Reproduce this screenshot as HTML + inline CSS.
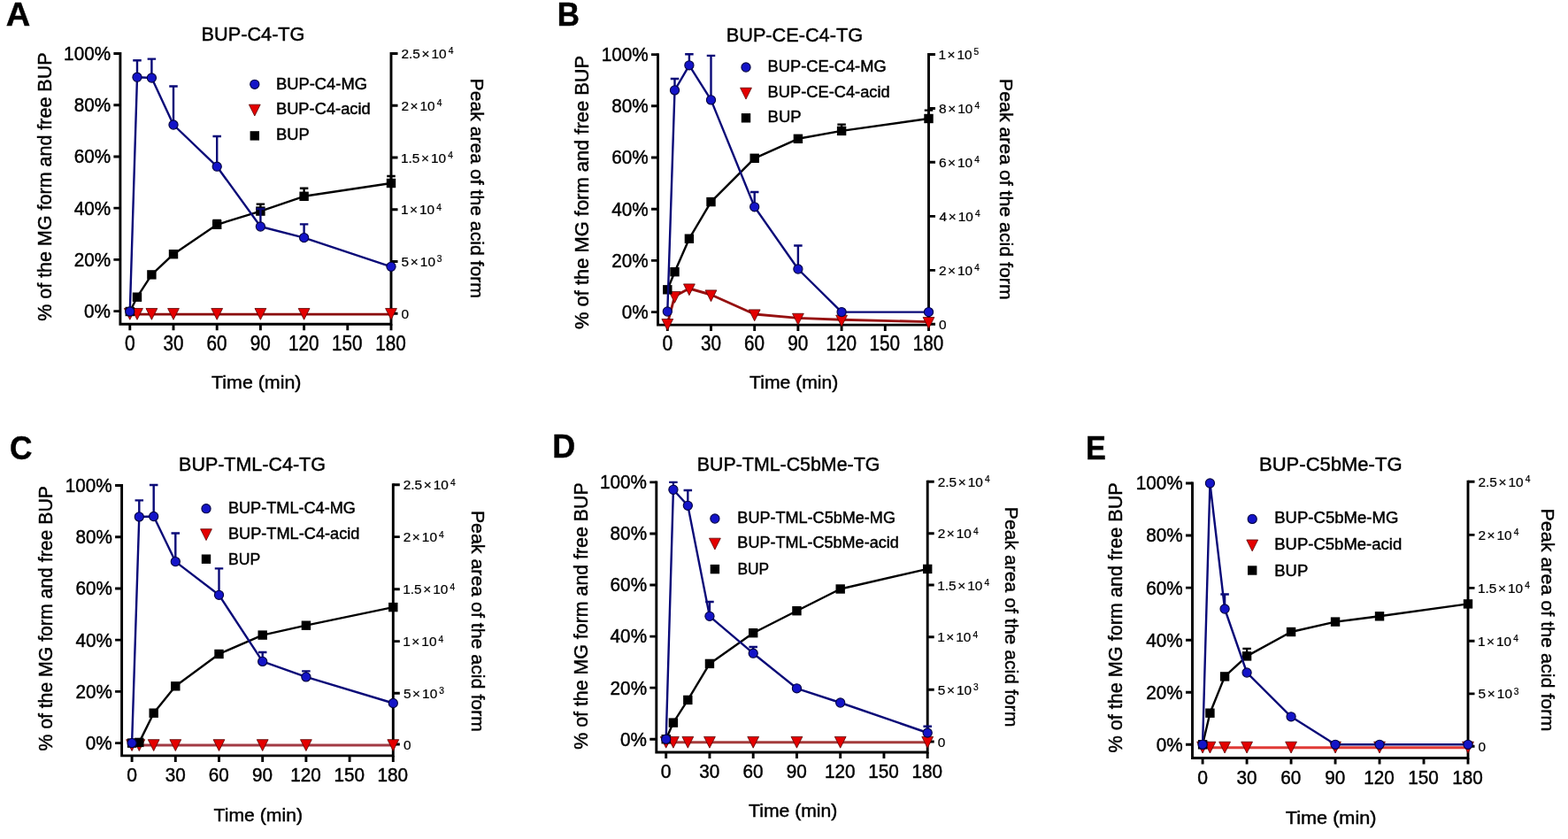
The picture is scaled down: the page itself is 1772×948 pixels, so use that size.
<!DOCTYPE html>
<html><head><meta charset="utf-8"><title>Figure</title>
<style>html,body{margin:0;padding:0;background:#fff;overflow:hidden;}svg{display:block;}</style>
</head><body>
<svg width="1772" height="948" viewBox="0 0 1772 948" font-family="'Liberation Sans', Arial, Helvetica, sans-serif" fill="#000">
<style>text{stroke:#000;stroke-width:0.45px;}.rl text{stroke-width:0.22px;}</style>
<rect width="1772" height="948" fill="#fff"/>
<g>
<text x="6.66" y="29.4" font-size="37.4" font-weight="bold" textLength="27.49" lengthAdjust="spacingAndGlyphs">A</text>
<text x="227.56" y="46" font-size="21.4" textLength="116.95" lengthAdjust="spacingAndGlyphs">BUP-C4-TG</text>
<path d="M135.9 59.05V366.3H442V59.05" stroke="#000" stroke-width="2.9" fill="none"/>
<path d="M128.4 60.5H135.9M128.4 118.72H135.9M128.4 176.94H135.9M128.4 235.16H135.9M128.4 293.38H135.9M128.4 351.6H135.9M442 60.5H449.5M442 119.2H449.5M442 178H449.5M442 236.8H449.5M442 295.5H449.5M442 354.2H449.5M146.8 366.3V373.3M196 366.3V373.3M245.2 366.3V373.3M294.4 366.3V373.3M343.6 366.3V373.3M392.8 366.3V373.3M442 366.3V373.3" stroke="#000" stroke-width="2.9" fill="none"/>
<text x="72.11" y="67.9" font-size="22.6" textLength="52.97" lengthAdjust="spacingAndGlyphs">100%</text>
<text x="83.71" y="126.12" font-size="22.6" textLength="41.45" lengthAdjust="spacingAndGlyphs">80%</text>
<text x="83.71" y="184.34" font-size="22.6" textLength="41.45" lengthAdjust="spacingAndGlyphs">60%</text>
<text x="83.71" y="242.56" font-size="22.6" textLength="41.45" lengthAdjust="spacingAndGlyphs">40%</text>
<text x="83.71" y="300.78" font-size="22.6" textLength="41.45" lengthAdjust="spacingAndGlyphs">20%</text>
<text x="95.1" y="359" font-size="22.6" textLength="29.93" lengthAdjust="spacingAndGlyphs">0%</text>
<text x="140.88" y="396" font-size="23.3" textLength="11.76" lengthAdjust="spacingAndGlyphs">0</text>
<text x="184.4" y="396" font-size="23.3" textLength="23.03" lengthAdjust="spacingAndGlyphs">30</text>
<text x="233.5" y="396" font-size="23.3" textLength="23.03" lengthAdjust="spacingAndGlyphs">60</text>
<text x="282.7" y="396" font-size="23.3" textLength="23.03" lengthAdjust="spacingAndGlyphs">90</text>
<text x="325.89" y="396" font-size="23.3" textLength="34.55" lengthAdjust="spacingAndGlyphs">120</text>
<text x="375.09" y="396" font-size="23.3" textLength="34.55" lengthAdjust="spacingAndGlyphs">150</text>
<text x="424.29" y="396" font-size="23.3" textLength="34.55" lengthAdjust="spacingAndGlyphs">180</text>
<text x="239.07" y="439.3" font-size="20.8" textLength="101.41" lengthAdjust="spacingAndGlyphs">Time (min)</text>
<g class="rl"><text x="453.43" y="66" font-size="15.4" textLength="21.41" lengthAdjust="spacingAndGlyphs">2.5</text><text x="476.44" y="66" font-size="15.4" textLength="8.99" lengthAdjust="spacingAndGlyphs">×</text><text x="487.46" y="66" font-size="15.4" textLength="17.13" lengthAdjust="spacingAndGlyphs">10</text><text x="506.69" y="61.4" font-size="10.2" textLength="5.67" lengthAdjust="spacingAndGlyphs">4</text></g>
<g class="rl"><text x="453.43" y="124.7" font-size="15.4" textLength="8.56" lengthAdjust="spacingAndGlyphs">2</text><text x="463.51" y="124.7" font-size="15.4" textLength="8.99" lengthAdjust="spacingAndGlyphs">×</text><text x="474.53" y="124.7" font-size="15.4" textLength="17.13" lengthAdjust="spacingAndGlyphs">10</text><text x="493.76" y="120.1" font-size="10.2" textLength="5.67" lengthAdjust="spacingAndGlyphs">4</text></g>
<g class="rl"><text x="452.97" y="183.5" font-size="15.4" textLength="21.41" lengthAdjust="spacingAndGlyphs">1.5</text><text x="475.98" y="183.5" font-size="15.4" textLength="8.99" lengthAdjust="spacingAndGlyphs">×</text><text x="487" y="183.5" font-size="15.4" textLength="17.13" lengthAdjust="spacingAndGlyphs">10</text><text x="506.23" y="178.9" font-size="10.2" textLength="5.67" lengthAdjust="spacingAndGlyphs">4</text></g>
<g class="rl"><text x="452.97" y="242.3" font-size="15.4" textLength="8.56" lengthAdjust="spacingAndGlyphs">1</text><text x="463.04" y="242.3" font-size="15.4" textLength="8.99" lengthAdjust="spacingAndGlyphs">×</text><text x="474.07" y="242.3" font-size="15.4" textLength="17.13" lengthAdjust="spacingAndGlyphs">10</text><text x="493.29" y="237.7" font-size="10.2" textLength="5.67" lengthAdjust="spacingAndGlyphs">4</text></g>
<g class="rl"><text x="453.58" y="301" font-size="15.4" textLength="8.56" lengthAdjust="spacingAndGlyphs">5</text><text x="463.81" y="301" font-size="15.4" textLength="8.99" lengthAdjust="spacingAndGlyphs">×</text><text x="474.84" y="301" font-size="15.4" textLength="17.13" lengthAdjust="spacingAndGlyphs">10</text><text x="493.86" y="296.4" font-size="10.2" textLength="5.67" lengthAdjust="spacingAndGlyphs">3</text></g>
<g class="rl"><text x="453.58" y="359.7" font-size="15.4" textLength="8.56" lengthAdjust="spacingAndGlyphs">0</text></g>
<text transform="translate(57.5 362.2) rotate(-90)" x="-0.64" y="0" font-size="21.2" textLength="303.33" lengthAdjust="spacingAndGlyphs">% of the MG form and free BUP</text>
<text transform="translate(532.2 90.3) rotate(90)" x="-1.69" y="0" font-size="21" textLength="248.33" lengthAdjust="spacingAndGlyphs">Peak area of the acid form</text>
<circle cx="287.8" cy="95.3" r="5.1" fill="#1414c8" stroke="#020240" stroke-width="1.1"/>
<path d="M281.4 118.18L294.2 118.18L287.8 130.98Z" fill="#e40000" stroke="#580000" stroke-width="0.8" stroke-linejoin="round"/>
<rect x="282.6" y="148.2" width="10.4" height="10.4" fill="#000"/>
<text x="311.93" y="100.6" font-size="17.5" textLength="103.06" lengthAdjust="spacingAndGlyphs">BUP-C4-MG</text>
<text x="311.93" y="129.4" font-size="17.5" textLength="106.85" lengthAdjust="spacingAndGlyphs">BUP-C4-acid</text>
<text x="311.93" y="158.3" font-size="17.5" textLength="37.72" lengthAdjust="spacingAndGlyphs">BUP</text>
<path d="M146.8 355.1H442" stroke="#8a0505" stroke-width="2.9" fill="none"/>
<path d="M140.4 348.48L153.2 348.48L146.8 361.28Z" fill="#e40000" stroke="#580000" stroke-width="0.8" stroke-linejoin="round"/>
<path d="M148.6 348.48L161.4 348.48L155 361.28Z" fill="#e40000" stroke="#580000" stroke-width="0.8" stroke-linejoin="round"/>
<path d="M165 348.48L177.8 348.48L171.4 361.28Z" fill="#e40000" stroke="#580000" stroke-width="0.8" stroke-linejoin="round"/>
<path d="M189.6 348.48L202.4 348.48L196 361.28Z" fill="#e40000" stroke="#580000" stroke-width="0.8" stroke-linejoin="round"/>
<path d="M238.8 348.48L251.6 348.48L245.2 361.28Z" fill="#e40000" stroke="#580000" stroke-width="0.8" stroke-linejoin="round"/>
<path d="M288 348.48L300.8 348.48L294.4 361.28Z" fill="#e40000" stroke="#580000" stroke-width="0.8" stroke-linejoin="round"/>
<path d="M337.2 348.48L350 348.48L343.6 361.28Z" fill="#e40000" stroke="#580000" stroke-width="0.8" stroke-linejoin="round"/>
<path d="M435.6 348.48L448.4 348.48L442 361.28Z" fill="#e40000" stroke="#580000" stroke-width="0.8" stroke-linejoin="round"/>
<path d="M196 287.2V284M191.25 284H200.75" stroke="#000" stroke-width="2.4" fill="none"/>
<path d="M245.2 253.8V249M240.45 249H249.95" stroke="#000" stroke-width="2.4" fill="none"/>
<path d="M294.4 238.6V230.6M289.65 230.6H299.15" stroke="#000" stroke-width="2.4" fill="none"/>
<path d="M343.6 221.8V212.7M338.85 212.7H348.35" stroke="#000" stroke-width="2.4" fill="none"/>
<path d="M442 207V199M437.25 199H446.75" stroke="#000" stroke-width="2.4" fill="none"/>
<polyline points="146.8,352 155,335.7 171.4,310.4 196,287.2 245.2,253.8 294.4,238.6 343.6,221.8 442,207" stroke="#000" stroke-width="2.4" fill="none" stroke-linejoin="round"/>
<rect x="141.6" y="346.8" width="10.4" height="10.4" fill="#000"/>
<rect x="149.8" y="330.5" width="10.4" height="10.4" fill="#000"/>
<rect x="166.2" y="305.2" width="10.4" height="10.4" fill="#000"/>
<rect x="190.8" y="282" width="10.4" height="10.4" fill="#000"/>
<rect x="240" y="248.6" width="10.4" height="10.4" fill="#000"/>
<rect x="289.2" y="233.4" width="10.4" height="10.4" fill="#000"/>
<rect x="338.4" y="216.6" width="10.4" height="10.4" fill="#000"/>
<rect x="436.8" y="201.8" width="10.4" height="10.4" fill="#000"/>
<path d="M155 87.2V68.2M150.25 68.2H159.75" stroke="#0a0a78" stroke-width="2.4" fill="none"/>
<path d="M171.4 88V66.6M166.65 66.6H176.15" stroke="#0a0a78" stroke-width="2.4" fill="none"/>
<path d="M196 141V97.5M191.25 97.5H200.75" stroke="#0a0a78" stroke-width="2.4" fill="none"/>
<path d="M245.2 188.2V154M240.45 154H249.95" stroke="#0a0a78" stroke-width="2.4" fill="none"/>
<path d="M294.4 256V236M289.65 236H299.15" stroke="#0a0a78" stroke-width="2.4" fill="none"/>
<path d="M343.6 268.6V253.4M338.85 253.4H348.35" stroke="#0a0a78" stroke-width="2.4" fill="none"/>
<polyline points="146.8,352 155,87.2 171.4,88 196,141 245.2,188.2 294.4,256 343.6,268.6 442,301.3" stroke="#0a0a78" stroke-width="2.4" fill="none" stroke-linejoin="round"/>
<circle cx="146.8" cy="352" r="5.1" fill="#1414c8" stroke="#020240" stroke-width="1.1"/>
<circle cx="155" cy="87.2" r="5.1" fill="#1414c8" stroke="#020240" stroke-width="1.1"/>
<circle cx="171.4" cy="88" r="5.1" fill="#1414c8" stroke="#020240" stroke-width="1.1"/>
<circle cx="196" cy="141" r="5.1" fill="#1414c8" stroke="#020240" stroke-width="1.1"/>
<circle cx="245.2" cy="188.2" r="5.1" fill="#1414c8" stroke="#020240" stroke-width="1.1"/>
<circle cx="294.4" cy="256" r="5.1" fill="#1414c8" stroke="#020240" stroke-width="1.1"/>
<circle cx="343.6" cy="268.6" r="5.1" fill="#1414c8" stroke="#020240" stroke-width="1.1"/>
<circle cx="442" cy="301.3" r="5.1" fill="#1414c8" stroke="#020240" stroke-width="1.1"/>
</g>
<g>
<text x="629.86" y="29.4" font-size="37.4" font-weight="bold" textLength="25.22" lengthAdjust="spacingAndGlyphs">B</text>
<text x="820.76" y="46.5" font-size="21.4" textLength="154.3" lengthAdjust="spacingAndGlyphs">BUP-CE-C4-TG</text>
<path d="M743.5 60.15V367.1H1049.5V60.05" stroke="#000" stroke-width="2.9" fill="none"/>
<path d="M736 61.6H743.5M736 119.8H743.5M736 178H743.5M736 236.2H743.5M736 294.4H743.5M736 352.6H743.5M1049.5 61.5H1057M1049.5 122.5H1057M1049.5 183.2H1057M1049.5 244.4H1057M1049.5 305.4H1057M1049.5 366.2H1057M754.3 367.1V374.1M803.5 367.1V374.1M852.7 367.1V374.1M901.9 367.1V374.1M951.1 367.1V374.1M1000.3 367.1V374.1M1049.5 367.1V374.1" stroke="#000" stroke-width="2.9" fill="none"/>
<text x="679.71" y="69" font-size="22.6" textLength="52.97" lengthAdjust="spacingAndGlyphs">100%</text>
<text x="691.31" y="127.2" font-size="22.6" textLength="41.45" lengthAdjust="spacingAndGlyphs">80%</text>
<text x="691.31" y="185.4" font-size="22.6" textLength="41.45" lengthAdjust="spacingAndGlyphs">60%</text>
<text x="691.31" y="243.6" font-size="22.6" textLength="41.45" lengthAdjust="spacingAndGlyphs">40%</text>
<text x="691.31" y="301.8" font-size="22.6" textLength="41.45" lengthAdjust="spacingAndGlyphs">20%</text>
<text x="702.7" y="360" font-size="22.6" textLength="29.93" lengthAdjust="spacingAndGlyphs">0%</text>
<text x="748.38" y="396.3" font-size="23.3" textLength="11.76" lengthAdjust="spacingAndGlyphs">0</text>
<text x="791.9" y="396.3" font-size="23.3" textLength="23.03" lengthAdjust="spacingAndGlyphs">30</text>
<text x="841" y="396.3" font-size="23.3" textLength="23.03" lengthAdjust="spacingAndGlyphs">60</text>
<text x="890.2" y="396.3" font-size="23.3" textLength="23.03" lengthAdjust="spacingAndGlyphs">90</text>
<text x="933.39" y="396.3" font-size="23.3" textLength="34.55" lengthAdjust="spacingAndGlyphs">120</text>
<text x="982.59" y="396.3" font-size="23.3" textLength="34.55" lengthAdjust="spacingAndGlyphs">150</text>
<text x="1031.79" y="396.3" font-size="23.3" textLength="34.55" lengthAdjust="spacingAndGlyphs">180</text>
<text x="847.08" y="439.4" font-size="20.8" textLength="100.19" lengthAdjust="spacingAndGlyphs">Time (min)</text>
<g class="rl"><text x="1060.47" y="67" font-size="15.4" textLength="8.56" lengthAdjust="spacingAndGlyphs">1</text><text x="1070.54" y="67" font-size="15.4" textLength="8.99" lengthAdjust="spacingAndGlyphs">×</text><text x="1081.57" y="67" font-size="15.4" textLength="17.13" lengthAdjust="spacingAndGlyphs">10</text><text x="1100.59" y="62.4" font-size="10.2" textLength="5.67" lengthAdjust="spacingAndGlyphs">5</text></g>
<g class="rl"><text x="1061.08" y="128" font-size="15.4" textLength="8.56" lengthAdjust="spacingAndGlyphs">8</text><text x="1071.16" y="128" font-size="15.4" textLength="8.99" lengthAdjust="spacingAndGlyphs">×</text><text x="1082.18" y="128" font-size="15.4" textLength="17.13" lengthAdjust="spacingAndGlyphs">10</text><text x="1101.41" y="123.4" font-size="10.2" textLength="5.67" lengthAdjust="spacingAndGlyphs">4</text></g>
<g class="rl"><text x="1060.93" y="188.7" font-size="15.4" textLength="8.56" lengthAdjust="spacingAndGlyphs">6</text><text x="1071.01" y="188.7" font-size="15.4" textLength="8.99" lengthAdjust="spacingAndGlyphs">×</text><text x="1082.03" y="188.7" font-size="15.4" textLength="17.13" lengthAdjust="spacingAndGlyphs">10</text><text x="1101.26" y="184.1" font-size="10.2" textLength="5.67" lengthAdjust="spacingAndGlyphs">4</text></g>
<g class="rl"><text x="1061.39" y="249.9" font-size="15.4" textLength="8.56" lengthAdjust="spacingAndGlyphs">4</text><text x="1071.78" y="249.9" font-size="15.4" textLength="8.99" lengthAdjust="spacingAndGlyphs">×</text><text x="1082.8" y="249.9" font-size="15.4" textLength="17.13" lengthAdjust="spacingAndGlyphs">10</text><text x="1102.03" y="245.3" font-size="10.2" textLength="5.67" lengthAdjust="spacingAndGlyphs">4</text></g>
<g class="rl"><text x="1060.93" y="310.9" font-size="15.4" textLength="8.56" lengthAdjust="spacingAndGlyphs">2</text><text x="1071.01" y="310.9" font-size="15.4" textLength="8.99" lengthAdjust="spacingAndGlyphs">×</text><text x="1082.03" y="310.9" font-size="15.4" textLength="17.13" lengthAdjust="spacingAndGlyphs">10</text><text x="1101.26" y="306.3" font-size="10.2" textLength="5.67" lengthAdjust="spacingAndGlyphs">4</text></g>
<g class="rl"><text x="1061.08" y="371.7" font-size="15.4" textLength="8.56" lengthAdjust="spacingAndGlyphs">0</text></g>
<text transform="translate(665.3 371.3) rotate(-90)" x="-0.66" y="0" font-size="21.2" textLength="309.16" lengthAdjust="spacingAndGlyphs">% of the MG form and free BUP</text>
<text transform="translate(1129.5 90.7) rotate(90)" x="-1.7" y="0" font-size="21" textLength="249.64" lengthAdjust="spacingAndGlyphs">Peak area of the acid form</text>
<circle cx="843" cy="76" r="5.1" fill="#1414c8" stroke="#020240" stroke-width="1.1"/>
<path d="M836.6 99.28L849.4 99.28L843 112.08Z" fill="#e40000" stroke="#580000" stroke-width="0.8" stroke-linejoin="round"/>
<rect x="837.8" y="128.1" width="10.4" height="10.4" fill="#000"/>
<text x="867.64" y="80.7" font-size="17.5" textLength="134" lengthAdjust="spacingAndGlyphs">BUP-CE-C4-MG</text>
<text x="867.64" y="109.6" font-size="17.5" textLength="138.09" lengthAdjust="spacingAndGlyphs">BUP-CE-C4-acid</text>
<text x="867.62" y="138.1" font-size="17.5" textLength="38.04" lengthAdjust="spacingAndGlyphs">BUP</text>
<polyline points="754.3,365.6 762.5,334.6 778.9,326 803.5,333 852.7,355 901.9,359.4 951.1,361.3 1049.5,363.6" stroke="#961010" stroke-width="2.9" fill="none" stroke-linejoin="round"/>
<path d="M747.9 360.48L760.7 360.48L754.3 373.28Z" fill="#e40000" stroke="#580000" stroke-width="0.8" stroke-linejoin="round"/>
<path d="M756.1 329.48L768.9 329.48L762.5 342.28Z" fill="#e40000" stroke="#580000" stroke-width="0.8" stroke-linejoin="round"/>
<path d="M772.5 320.88L785.3 320.88L778.9 333.68Z" fill="#e40000" stroke="#580000" stroke-width="0.8" stroke-linejoin="round"/>
<path d="M797.1 327.88L809.9 327.88L803.5 340.68Z" fill="#e40000" stroke="#580000" stroke-width="0.8" stroke-linejoin="round"/>
<path d="M846.3 349.88L859.1 349.88L852.7 362.68Z" fill="#e40000" stroke="#580000" stroke-width="0.8" stroke-linejoin="round"/>
<path d="M895.5 354.28L908.3 354.28L901.9 367.08Z" fill="#e40000" stroke="#580000" stroke-width="0.8" stroke-linejoin="round"/>
<path d="M944.7 356.18L957.5 356.18L951.1 368.98Z" fill="#e40000" stroke="#580000" stroke-width="0.8" stroke-linejoin="round"/>
<path d="M1043.1 358.48L1055.9 358.48L1049.5 371.28Z" fill="#e40000" stroke="#580000" stroke-width="0.8" stroke-linejoin="round"/>
<path d="M951.1 147.9V140.6M946.35 140.6H955.85" stroke="#000" stroke-width="2.4" fill="none"/>
<path d="M1049.5 134V124.6M1044.75 124.6H1054.25" stroke="#000" stroke-width="2.4" fill="none"/>
<polyline points="754.3,327.3 762.5,307.2 778.9,269.7 803.5,228.1 852.7,178.8 901.9,156.8 951.1,147.9 1049.5,134" stroke="#000" stroke-width="2.4" fill="none" stroke-linejoin="round"/>
<rect x="749.1" y="322.1" width="10.4" height="10.4" fill="#000"/>
<rect x="757.3" y="302" width="10.4" height="10.4" fill="#000"/>
<rect x="773.7" y="264.5" width="10.4" height="10.4" fill="#000"/>
<rect x="798.3" y="222.9" width="10.4" height="10.4" fill="#000"/>
<rect x="847.5" y="173.6" width="10.4" height="10.4" fill="#000"/>
<rect x="896.7" y="151.6" width="10.4" height="10.4" fill="#000"/>
<rect x="945.9" y="142.7" width="10.4" height="10.4" fill="#000"/>
<rect x="1044.3" y="128.8" width="10.4" height="10.4" fill="#000"/>
<path d="M762.5 101.9V89M757.75 89H767.25" stroke="#0a0a78" stroke-width="2.4" fill="none"/>
<path d="M778.9 73.8V61.2M774.15 61.2H783.65" stroke="#0a0a78" stroke-width="2.4" fill="none"/>
<path d="M803.5 112.9V62.9M798.75 62.9H808.25" stroke="#0a0a78" stroke-width="2.4" fill="none"/>
<path d="M852.7 233.8V217M847.95 217H857.45" stroke="#0a0a78" stroke-width="2.4" fill="none"/>
<path d="M901.9 304V277.5M897.15 277.5H906.65" stroke="#0a0a78" stroke-width="2.4" fill="none"/>
<polyline points="754.3,352 762.5,101.9 778.9,73.8 803.5,112.9 852.7,233.8 901.9,304 951.1,352.6 1049.5,352.6" stroke="#0a0a78" stroke-width="2.4" fill="none" stroke-linejoin="round"/>
<circle cx="754.3" cy="352" r="5.1" fill="#1414c8" stroke="#020240" stroke-width="1.1"/>
<circle cx="762.5" cy="101.9" r="5.1" fill="#1414c8" stroke="#020240" stroke-width="1.1"/>
<circle cx="778.9" cy="73.8" r="5.1" fill="#1414c8" stroke="#020240" stroke-width="1.1"/>
<circle cx="803.5" cy="112.9" r="5.1" fill="#1414c8" stroke="#020240" stroke-width="1.1"/>
<circle cx="852.7" cy="233.8" r="5.1" fill="#1414c8" stroke="#020240" stroke-width="1.1"/>
<circle cx="901.9" cy="304" r="5.1" fill="#1414c8" stroke="#020240" stroke-width="1.1"/>
<circle cx="951.1" cy="352.6" r="5.1" fill="#1414c8" stroke="#020240" stroke-width="1.1"/>
<circle cx="1049.5" cy="352.6" r="5.1" fill="#1414c8" stroke="#020240" stroke-width="1.1"/>
</g>
<g>
<text x="11.09" y="518.5" font-size="37.4" font-weight="bold" textLength="25.44" lengthAdjust="spacingAndGlyphs">C</text>
<text x="202.08" y="531.7" font-size="21.4" textLength="165.78" lengthAdjust="spacingAndGlyphs">BUP-TML-C4-TG</text>
<path d="M137.6 547.05V853.9H444.3V546.35" stroke="#000" stroke-width="2.9" fill="none"/>
<path d="M130.1 548.5H137.6M130.1 606.72H137.6M130.1 664.94H137.6M130.1 723.16H137.6M130.1 781.38H137.6M130.1 839.6H137.6M444.3 547.8H451.8M444.3 606.6H451.8M444.3 665.8H451.8M444.3 724.6H451.8M444.3 783.3H451.8M444.3 841H451.8M149.1 853.9V860.9M198.3 853.9V860.9M247.5 853.9V860.9M296.7 853.9V860.9M345.9 853.9V860.9M395.1 853.9V860.9M444.3 853.9V860.9" stroke="#000" stroke-width="2.9" fill="none"/>
<text x="73.81" y="555.9" font-size="22.6" textLength="52.97" lengthAdjust="spacingAndGlyphs">100%</text>
<text x="85.41" y="614.12" font-size="22.6" textLength="41.45" lengthAdjust="spacingAndGlyphs">80%</text>
<text x="85.41" y="672.34" font-size="22.6" textLength="41.45" lengthAdjust="spacingAndGlyphs">60%</text>
<text x="85.41" y="730.56" font-size="22.6" textLength="41.45" lengthAdjust="spacingAndGlyphs">40%</text>
<text x="85.41" y="788.78" font-size="22.6" textLength="41.45" lengthAdjust="spacingAndGlyphs">20%</text>
<text x="96.8" y="847" font-size="22.6" textLength="29.93" lengthAdjust="spacingAndGlyphs">0%</text>
<text x="143.18" y="883.4" font-size="22" textLength="11.76" lengthAdjust="spacingAndGlyphs">0</text>
<text x="186.7" y="883.4" font-size="22" textLength="23.03" lengthAdjust="spacingAndGlyphs">30</text>
<text x="235.8" y="883.4" font-size="22" textLength="23.03" lengthAdjust="spacingAndGlyphs">60</text>
<text x="285" y="883.4" font-size="22" textLength="23.03" lengthAdjust="spacingAndGlyphs">90</text>
<text x="328.19" y="883.4" font-size="22" textLength="34.55" lengthAdjust="spacingAndGlyphs">120</text>
<text x="377.39" y="883.4" font-size="22" textLength="34.55" lengthAdjust="spacingAndGlyphs">150</text>
<text x="426.59" y="883.4" font-size="22" textLength="34.55" lengthAdjust="spacingAndGlyphs">180</text>
<text x="241.58" y="927.6" font-size="20.8" textLength="100.39" lengthAdjust="spacingAndGlyphs">Time (min)</text>
<g class="rl"><text x="455.73" y="553.3" font-size="15.4" textLength="21.41" lengthAdjust="spacingAndGlyphs">2.5</text><text x="478.74" y="553.3" font-size="15.4" textLength="8.99" lengthAdjust="spacingAndGlyphs">×</text><text x="489.76" y="553.3" font-size="15.4" textLength="17.13" lengthAdjust="spacingAndGlyphs">10</text><text x="508.99" y="548.7" font-size="10.2" textLength="5.67" lengthAdjust="spacingAndGlyphs">4</text></g>
<g class="rl"><text x="455.73" y="612.1" font-size="15.4" textLength="8.56" lengthAdjust="spacingAndGlyphs">2</text><text x="465.81" y="612.1" font-size="15.4" textLength="8.99" lengthAdjust="spacingAndGlyphs">×</text><text x="476.83" y="612.1" font-size="15.4" textLength="17.13" lengthAdjust="spacingAndGlyphs">10</text><text x="496.06" y="607.5" font-size="10.2" textLength="5.67" lengthAdjust="spacingAndGlyphs">4</text></g>
<g class="rl"><text x="455.27" y="671.3" font-size="15.4" textLength="21.41" lengthAdjust="spacingAndGlyphs">1.5</text><text x="478.28" y="671.3" font-size="15.4" textLength="8.99" lengthAdjust="spacingAndGlyphs">×</text><text x="489.3" y="671.3" font-size="15.4" textLength="17.13" lengthAdjust="spacingAndGlyphs">10</text><text x="508.53" y="666.7" font-size="10.2" textLength="5.67" lengthAdjust="spacingAndGlyphs">4</text></g>
<g class="rl"><text x="455.27" y="730.1" font-size="15.4" textLength="8.56" lengthAdjust="spacingAndGlyphs">1</text><text x="465.34" y="730.1" font-size="15.4" textLength="8.99" lengthAdjust="spacingAndGlyphs">×</text><text x="476.37" y="730.1" font-size="15.4" textLength="17.13" lengthAdjust="spacingAndGlyphs">10</text><text x="495.59" y="725.5" font-size="10.2" textLength="5.67" lengthAdjust="spacingAndGlyphs">4</text></g>
<g class="rl"><text x="455.88" y="788.8" font-size="15.4" textLength="8.56" lengthAdjust="spacingAndGlyphs">5</text><text x="466.11" y="788.8" font-size="15.4" textLength="8.99" lengthAdjust="spacingAndGlyphs">×</text><text x="477.14" y="788.8" font-size="15.4" textLength="17.13" lengthAdjust="spacingAndGlyphs">10</text><text x="496.16" y="784.2" font-size="10.2" textLength="5.67" lengthAdjust="spacingAndGlyphs">3</text></g>
<g class="rl"><text x="455.88" y="846.5" font-size="15.4" textLength="8.56" lengthAdjust="spacingAndGlyphs">0</text></g>
<text transform="translate(59.3 848) rotate(-90)" x="-0.64" y="0" font-size="21.2" textLength="299.51" lengthAdjust="spacingAndGlyphs">% of the MG form and free BUP</text>
<text transform="translate(533.2 578.6) rotate(90)" x="-1.71" y="0" font-size="21" textLength="250.15" lengthAdjust="spacingAndGlyphs">Peak area of the acid form</text>
<circle cx="233" cy="574.7" r="5.1" fill="#1414c8" stroke="#020240" stroke-width="1.1"/>
<path d="M226.6 597.78L239.4 597.78L233 610.58Z" fill="#e40000" stroke="#580000" stroke-width="0.8" stroke-linejoin="round"/>
<rect x="227.8" y="626.5" width="10.4" height="10.4" fill="#000"/>
<text x="257.95" y="580.3" font-size="17.5" textLength="143.99" lengthAdjust="spacingAndGlyphs">BUP-TML-C4-MG</text>
<text x="257.95" y="608.5" font-size="17.5" textLength="148.48" lengthAdjust="spacingAndGlyphs">BUP-TML-C4-acid</text>
<text x="257.99" y="637.9" font-size="17.5" textLength="36.22" lengthAdjust="spacingAndGlyphs">BUP</text>
<path d="M149.1 842H444.3" stroke="#a23a44" stroke-width="2.9" fill="none"/>
<path d="M142.7 835.68L155.5 835.68L149.1 848.48Z" fill="#e40000" stroke="#580000" stroke-width="0.8" stroke-linejoin="round"/>
<path d="M150.9 835.68L163.7 835.68L157.3 848.48Z" fill="#e40000" stroke="#580000" stroke-width="0.8" stroke-linejoin="round"/>
<path d="M167.3 835.68L180.1 835.68L173.7 848.48Z" fill="#e40000" stroke="#580000" stroke-width="0.8" stroke-linejoin="round"/>
<path d="M191.9 835.68L204.7 835.68L198.3 848.48Z" fill="#e40000" stroke="#580000" stroke-width="0.8" stroke-linejoin="round"/>
<path d="M241.1 835.68L253.9 835.68L247.5 848.48Z" fill="#e40000" stroke="#580000" stroke-width="0.8" stroke-linejoin="round"/>
<path d="M290.3 835.68L303.1 835.68L296.7 848.48Z" fill="#e40000" stroke="#580000" stroke-width="0.8" stroke-linejoin="round"/>
<path d="M339.5 835.68L352.3 835.68L345.9 848.48Z" fill="#e40000" stroke="#580000" stroke-width="0.8" stroke-linejoin="round"/>
<path d="M437.9 835.68L450.7 835.68L444.3 848.48Z" fill="#e40000" stroke="#580000" stroke-width="0.8" stroke-linejoin="round"/>
<polyline points="149.1,839.6 157.3,838.9 173.7,805.7 198.3,775.3 247.5,739 296.7,717.6 345.9,706.7 444.3,686.1" stroke="#000" stroke-width="2.4" fill="none" stroke-linejoin="round"/>
<rect x="143.9" y="834.4" width="10.4" height="10.4" fill="#000"/>
<rect x="152.1" y="833.7" width="10.4" height="10.4" fill="#000"/>
<rect x="168.5" y="800.5" width="10.4" height="10.4" fill="#000"/>
<rect x="193.1" y="770.1" width="10.4" height="10.4" fill="#000"/>
<rect x="242.3" y="733.8" width="10.4" height="10.4" fill="#000"/>
<rect x="291.5" y="712.4" width="10.4" height="10.4" fill="#000"/>
<rect x="340.7" y="701.5" width="10.4" height="10.4" fill="#000"/>
<rect x="439.1" y="680.9" width="10.4" height="10.4" fill="#000"/>
<path d="M157.3 583.9V565.4M152.55 565.4H162.05" stroke="#0a0a78" stroke-width="2.4" fill="none"/>
<path d="M173.7 583.5V548M168.95 548H178.45" stroke="#0a0a78" stroke-width="2.4" fill="none"/>
<path d="M198.3 634.6V602.5M193.55 602.5H203.05" stroke="#0a0a78" stroke-width="2.4" fill="none"/>
<path d="M247.5 672.3V642.4M242.75 642.4H252.25" stroke="#0a0a78" stroke-width="2.4" fill="none"/>
<path d="M296.7 747.4V737M291.95 737H301.45" stroke="#0a0a78" stroke-width="2.4" fill="none"/>
<path d="M345.9 764.9V758.4M341.15 758.4H350.65" stroke="#0a0a78" stroke-width="2.4" fill="none"/>
<polyline points="149.1,839.6 157.3,583.9 173.7,583.5 198.3,634.6 247.5,672.3 296.7,747.4 345.9,764.9 444.3,794.5" stroke="#0a0a78" stroke-width="2.4" fill="none" stroke-linejoin="round"/>
<circle cx="149.1" cy="839.6" r="5.1" fill="#1414c8" stroke="#020240" stroke-width="1.1"/>
<circle cx="157.3" cy="583.9" r="5.1" fill="#1414c8" stroke="#020240" stroke-width="1.1"/>
<circle cx="173.7" cy="583.5" r="5.1" fill="#1414c8" stroke="#020240" stroke-width="1.1"/>
<circle cx="198.3" cy="634.6" r="5.1" fill="#1414c8" stroke="#020240" stroke-width="1.1"/>
<circle cx="247.5" cy="672.3" r="5.1" fill="#1414c8" stroke="#020240" stroke-width="1.1"/>
<circle cx="296.7" cy="747.4" r="5.1" fill="#1414c8" stroke="#020240" stroke-width="1.1"/>
<circle cx="345.9" cy="764.9" r="5.1" fill="#1414c8" stroke="#020240" stroke-width="1.1"/>
<circle cx="444.3" cy="794.5" r="5.1" fill="#1414c8" stroke="#020240" stroke-width="1.1"/>
</g>
<g>
<text x="624.19" y="516.5" font-size="37.4" font-weight="bold" textLength="25.93" lengthAdjust="spacingAndGlyphs">D</text>
<text x="787.79" y="531.9" font-size="21.4" textLength="206.56" lengthAdjust="spacingAndGlyphs">BUP-TML-C5bMe-TG</text>
<path d="M741.8 543.45V850H1048.2V542.85" stroke="#000" stroke-width="2.9" fill="none"/>
<path d="M734.3 544.9H741.8M734.3 602.96H741.8M734.3 661.02H741.8M734.3 719.08H741.8M734.3 777.14H741.8M734.3 835.2H741.8M1048.2 544.3H1055.7M1048.2 602.7H1055.7M1048.2 661H1055.7M1048.2 719.8H1055.7M1048.2 779.2H1055.7M1048.2 838H1055.7M752.7 850V857M801.95 850V857M851.2 850V857M900.45 850V857M949.7 850V857M998.95 850V857M1048.2 850V857" stroke="#000" stroke-width="2.9" fill="none"/>
<text x="678.01" y="552.3" font-size="22.6" textLength="52.97" lengthAdjust="spacingAndGlyphs">100%</text>
<text x="689.61" y="610.36" font-size="22.6" textLength="41.45" lengthAdjust="spacingAndGlyphs">80%</text>
<text x="689.61" y="668.42" font-size="22.6" textLength="41.45" lengthAdjust="spacingAndGlyphs">60%</text>
<text x="689.61" y="726.48" font-size="22.6" textLength="41.45" lengthAdjust="spacingAndGlyphs">40%</text>
<text x="689.61" y="784.54" font-size="22.6" textLength="41.45" lengthAdjust="spacingAndGlyphs">20%</text>
<text x="701" y="842.6" font-size="22.6" textLength="29.93" lengthAdjust="spacingAndGlyphs">0%</text>
<text x="746.78" y="879.3" font-size="21.4" textLength="11.76" lengthAdjust="spacingAndGlyphs">0</text>
<text x="790.35" y="879.3" font-size="21.4" textLength="23.03" lengthAdjust="spacingAndGlyphs">30</text>
<text x="839.5" y="879.3" font-size="21.4" textLength="23.03" lengthAdjust="spacingAndGlyphs">60</text>
<text x="888.75" y="879.3" font-size="21.4" textLength="23.03" lengthAdjust="spacingAndGlyphs">90</text>
<text x="931.99" y="879.3" font-size="21.4" textLength="34.55" lengthAdjust="spacingAndGlyphs">120</text>
<text x="981.24" y="879.3" font-size="21.4" textLength="34.55" lengthAdjust="spacingAndGlyphs">150</text>
<text x="1030.49" y="879.3" font-size="21.4" textLength="34.55" lengthAdjust="spacingAndGlyphs">180</text>
<text x="846.08" y="923.4" font-size="20.8" textLength="100.19" lengthAdjust="spacingAndGlyphs">Time (min)</text>
<g class="rl"><text x="1059.63" y="549.8" font-size="15.4" textLength="21.41" lengthAdjust="spacingAndGlyphs">2.5</text><text x="1082.64" y="549.8" font-size="15.4" textLength="8.99" lengthAdjust="spacingAndGlyphs">×</text><text x="1093.66" y="549.8" font-size="15.4" textLength="17.13" lengthAdjust="spacingAndGlyphs">10</text><text x="1112.89" y="545.2" font-size="10.2" textLength="5.67" lengthAdjust="spacingAndGlyphs">4</text></g>
<g class="rl"><text x="1059.63" y="608.2" font-size="15.4" textLength="8.56" lengthAdjust="spacingAndGlyphs">2</text><text x="1069.71" y="608.2" font-size="15.4" textLength="8.99" lengthAdjust="spacingAndGlyphs">×</text><text x="1080.73" y="608.2" font-size="15.4" textLength="17.13" lengthAdjust="spacingAndGlyphs">10</text><text x="1099.96" y="603.6" font-size="10.2" textLength="5.67" lengthAdjust="spacingAndGlyphs">4</text></g>
<g class="rl"><text x="1059.17" y="666.5" font-size="15.4" textLength="21.41" lengthAdjust="spacingAndGlyphs">1.5</text><text x="1082.18" y="666.5" font-size="15.4" textLength="8.99" lengthAdjust="spacingAndGlyphs">×</text><text x="1093.2" y="666.5" font-size="15.4" textLength="17.13" lengthAdjust="spacingAndGlyphs">10</text><text x="1112.43" y="661.9" font-size="10.2" textLength="5.67" lengthAdjust="spacingAndGlyphs">4</text></g>
<g class="rl"><text x="1059.17" y="725.3" font-size="15.4" textLength="8.56" lengthAdjust="spacingAndGlyphs">1</text><text x="1069.24" y="725.3" font-size="15.4" textLength="8.99" lengthAdjust="spacingAndGlyphs">×</text><text x="1080.27" y="725.3" font-size="15.4" textLength="17.13" lengthAdjust="spacingAndGlyphs">10</text><text x="1099.49" y="720.7" font-size="10.2" textLength="5.67" lengthAdjust="spacingAndGlyphs">4</text></g>
<g class="rl"><text x="1059.78" y="784.7" font-size="15.4" textLength="8.56" lengthAdjust="spacingAndGlyphs">5</text><text x="1070.01" y="784.7" font-size="15.4" textLength="8.99" lengthAdjust="spacingAndGlyphs">×</text><text x="1081.04" y="784.7" font-size="15.4" textLength="17.13" lengthAdjust="spacingAndGlyphs">10</text><text x="1100.06" y="780.1" font-size="10.2" textLength="5.67" lengthAdjust="spacingAndGlyphs">3</text></g>
<g class="rl"><text x="1059.78" y="843.5" font-size="15.4" textLength="8.56" lengthAdjust="spacingAndGlyphs">0</text></g>
<text transform="translate(663.6 846.1) rotate(-90)" x="-0.64" y="0" font-size="21.2" textLength="301.42" lengthAdjust="spacingAndGlyphs">% of the MG form and free BUP</text>
<text transform="translate(1136.4 574.5) rotate(90)" x="-1.7" y="0" font-size="21" textLength="248.53" lengthAdjust="spacingAndGlyphs">Peak area of the acid form</text>
<circle cx="807.9" cy="586" r="5.1" fill="#1414c8" stroke="#020240" stroke-width="1.1"/>
<path d="M801.5 608.18L814.3 608.18L807.9 620.98Z" fill="#e40000" stroke="#580000" stroke-width="0.8" stroke-linejoin="round"/>
<rect x="802.7" y="637.9" width="10.4" height="10.4" fill="#000"/>
<text x="833.36" y="591" font-size="17.5" textLength="178.58" lengthAdjust="spacingAndGlyphs">BUP-TML-C5bMe-MG</text>
<text x="833.36" y="618.8" font-size="17.5" textLength="182.38" lengthAdjust="spacingAndGlyphs">BUP-TML-C5bMe-acid</text>
<text x="833.41" y="648.6" font-size="17.5" textLength="35.69" lengthAdjust="spacingAndGlyphs">BUP</text>
<path d="M752.7 838.8H1048.2" stroke="#a43c3c" stroke-width="2.9" fill="none"/>
<path d="M746.3 832.38L759.1 832.38L752.7 845.18Z" fill="#e40000" stroke="#580000" stroke-width="0.8" stroke-linejoin="round"/>
<path d="M754.51 832.38L767.31 832.38L760.91 845.18Z" fill="#e40000" stroke="#580000" stroke-width="0.8" stroke-linejoin="round"/>
<path d="M770.93 832.38L783.73 832.38L777.33 845.18Z" fill="#e40000" stroke="#580000" stroke-width="0.8" stroke-linejoin="round"/>
<path d="M795.55 832.38L808.35 832.38L801.95 845.18Z" fill="#e40000" stroke="#580000" stroke-width="0.8" stroke-linejoin="round"/>
<path d="M844.8 832.38L857.6 832.38L851.2 845.18Z" fill="#e40000" stroke="#580000" stroke-width="0.8" stroke-linejoin="round"/>
<path d="M894.05 832.38L906.85 832.38L900.45 845.18Z" fill="#e40000" stroke="#580000" stroke-width="0.8" stroke-linejoin="round"/>
<path d="M943.3 832.38L956.1 832.38L949.7 845.18Z" fill="#e40000" stroke="#580000" stroke-width="0.8" stroke-linejoin="round"/>
<path d="M1041.8 832.38L1054.6 832.38L1048.2 845.18Z" fill="#e40000" stroke="#580000" stroke-width="0.8" stroke-linejoin="round"/>
<polyline points="752.7,835.2 760.91,816.6 777.33,790.9 801.95,749.9 851.2,715.2 900.45,690.2 949.7,665.5 1048.2,642.9" stroke="#000" stroke-width="2.4" fill="none" stroke-linejoin="round"/>
<rect x="747.5" y="830" width="10.4" height="10.4" fill="#000"/>
<rect x="755.71" y="811.4" width="10.4" height="10.4" fill="#000"/>
<rect x="772.12" y="785.7" width="10.4" height="10.4" fill="#000"/>
<rect x="796.75" y="744.7" width="10.4" height="10.4" fill="#000"/>
<rect x="846" y="710" width="10.4" height="10.4" fill="#000"/>
<rect x="895.25" y="685" width="10.4" height="10.4" fill="#000"/>
<rect x="944.5" y="660.3" width="10.4" height="10.4" fill="#000"/>
<rect x="1043" y="637.7" width="10.4" height="10.4" fill="#000"/>
<path d="M760.91 553.3V544.9M756.16 544.9H765.66" stroke="#0a0a78" stroke-width="2.4" fill="none"/>
<path d="M777.33 571.3V554M772.58 554H782.08" stroke="#0a0a78" stroke-width="2.4" fill="none"/>
<path d="M801.95 696.3V680M797.2 680H806.7" stroke="#0a0a78" stroke-width="2.4" fill="none"/>
<path d="M851.2 738.2V731M846.45 731H855.95" stroke="#0a0a78" stroke-width="2.4" fill="none"/>
<path d="M1048.2 828V820.7M1043.45 820.7H1052.95" stroke="#0a0a78" stroke-width="2.4" fill="none"/>
<polyline points="752.7,835.2 760.91,553.3 777.33,571.3 801.95,696.3 851.2,738.2 900.45,777.8 949.7,794 1048.2,828" stroke="#0a0a78" stroke-width="2.4" fill="none" stroke-linejoin="round"/>
<circle cx="752.7" cy="835.2" r="5.1" fill="#1414c8" stroke="#020240" stroke-width="1.1"/>
<circle cx="760.91" cy="553.3" r="5.1" fill="#1414c8" stroke="#020240" stroke-width="1.1"/>
<circle cx="777.33" cy="571.3" r="5.1" fill="#1414c8" stroke="#020240" stroke-width="1.1"/>
<circle cx="801.95" cy="696.3" r="5.1" fill="#1414c8" stroke="#020240" stroke-width="1.1"/>
<circle cx="851.2" cy="738.2" r="5.1" fill="#1414c8" stroke="#020240" stroke-width="1.1"/>
<circle cx="900.45" cy="777.8" r="5.1" fill="#1414c8" stroke="#020240" stroke-width="1.1"/>
<circle cx="949.7" cy="794" r="5.1" fill="#1414c8" stroke="#020240" stroke-width="1.1"/>
<circle cx="1048.2" cy="828" r="5.1" fill="#1414c8" stroke="#020240" stroke-width="1.1"/>
</g>
<g>
<text x="1227" y="518.6" font-size="37.4" font-weight="bold" textLength="22.87" lengthAdjust="spacingAndGlyphs">E</text>
<text x="1423.04" y="531.7" font-size="21.4" textLength="161.5" lengthAdjust="spacingAndGlyphs">BUP-C5bMe-TG</text>
<path d="M1347.5 544.55V856.5H1659V542.85" stroke="#000" stroke-width="2.9" fill="none"/>
<path d="M1340 546H1347.5M1340 605.06H1347.5M1340 664.12H1347.5M1340 723.18H1347.5M1340 782.24H1347.5M1340 841.3H1347.5M1659 544.3H1666.5M1659 604.4H1666.5M1659 664.4H1666.5M1659 724.2H1666.5M1659 783.9H1666.5M1659 843.3H1666.5M1359.1 856.5V863.5M1409.08 856.5V863.5M1459.07 856.5V863.5M1509.05 856.5V863.5M1559.03 856.5V863.5M1609.02 856.5V863.5M1659 856.5V863.5" stroke="#000" stroke-width="2.9" fill="none"/>
<text x="1283.71" y="553.4" font-size="22.6" textLength="52.97" lengthAdjust="spacingAndGlyphs">100%</text>
<text x="1295.31" y="612.46" font-size="22.6" textLength="41.45" lengthAdjust="spacingAndGlyphs">80%</text>
<text x="1295.31" y="671.52" font-size="22.6" textLength="41.45" lengthAdjust="spacingAndGlyphs">60%</text>
<text x="1295.31" y="730.58" font-size="22.6" textLength="41.45" lengthAdjust="spacingAndGlyphs">40%</text>
<text x="1295.31" y="789.64" font-size="22.6" textLength="41.45" lengthAdjust="spacingAndGlyphs">20%</text>
<text x="1306.7" y="848.7" font-size="22.6" textLength="29.93" lengthAdjust="spacingAndGlyphs">0%</text>
<text x="1353.18" y="886" font-size="22.4" textLength="11.76" lengthAdjust="spacingAndGlyphs">0</text>
<text x="1397.49" y="886" font-size="22.4" textLength="23.03" lengthAdjust="spacingAndGlyphs">30</text>
<text x="1447.37" y="886" font-size="22.4" textLength="23.03" lengthAdjust="spacingAndGlyphs">60</text>
<text x="1497.35" y="886" font-size="22.4" textLength="23.03" lengthAdjust="spacingAndGlyphs">90</text>
<text x="1541.33" y="886" font-size="22.4" textLength="34.55" lengthAdjust="spacingAndGlyphs">120</text>
<text x="1591.31" y="886" font-size="22.4" textLength="34.55" lengthAdjust="spacingAndGlyphs">150</text>
<text x="1641.29" y="886" font-size="22.4" textLength="34.55" lengthAdjust="spacingAndGlyphs">180</text>
<text x="1452.77" y="930.8" font-size="20.8" textLength="102.73" lengthAdjust="spacingAndGlyphs">Time (min)</text>
<g class="rl"><text x="1670.43" y="549.8" font-size="15.4" textLength="21.41" lengthAdjust="spacingAndGlyphs">2.5</text><text x="1693.44" y="549.8" font-size="15.4" textLength="8.99" lengthAdjust="spacingAndGlyphs">×</text><text x="1704.46" y="549.8" font-size="15.4" textLength="17.13" lengthAdjust="spacingAndGlyphs">10</text><text x="1723.69" y="545.2" font-size="10.2" textLength="5.67" lengthAdjust="spacingAndGlyphs">4</text></g>
<g class="rl"><text x="1670.43" y="609.9" font-size="15.4" textLength="8.56" lengthAdjust="spacingAndGlyphs">2</text><text x="1680.51" y="609.9" font-size="15.4" textLength="8.99" lengthAdjust="spacingAndGlyphs">×</text><text x="1691.53" y="609.9" font-size="15.4" textLength="17.13" lengthAdjust="spacingAndGlyphs">10</text><text x="1710.76" y="605.3" font-size="10.2" textLength="5.67" lengthAdjust="spacingAndGlyphs">4</text></g>
<g class="rl"><text x="1669.97" y="669.9" font-size="15.4" textLength="21.41" lengthAdjust="spacingAndGlyphs">1.5</text><text x="1692.98" y="669.9" font-size="15.4" textLength="8.99" lengthAdjust="spacingAndGlyphs">×</text><text x="1704" y="669.9" font-size="15.4" textLength="17.13" lengthAdjust="spacingAndGlyphs">10</text><text x="1723.23" y="665.3" font-size="10.2" textLength="5.67" lengthAdjust="spacingAndGlyphs">4</text></g>
<g class="rl"><text x="1669.97" y="729.7" font-size="15.4" textLength="8.56" lengthAdjust="spacingAndGlyphs">1</text><text x="1680.04" y="729.7" font-size="15.4" textLength="8.99" lengthAdjust="spacingAndGlyphs">×</text><text x="1691.07" y="729.7" font-size="15.4" textLength="17.13" lengthAdjust="spacingAndGlyphs">10</text><text x="1710.29" y="725.1" font-size="10.2" textLength="5.67" lengthAdjust="spacingAndGlyphs">4</text></g>
<g class="rl"><text x="1670.58" y="789.4" font-size="15.4" textLength="8.56" lengthAdjust="spacingAndGlyphs">5</text><text x="1680.81" y="789.4" font-size="15.4" textLength="8.99" lengthAdjust="spacingAndGlyphs">×</text><text x="1691.84" y="789.4" font-size="15.4" textLength="17.13" lengthAdjust="spacingAndGlyphs">10</text><text x="1710.86" y="784.8" font-size="10.2" textLength="5.67" lengthAdjust="spacingAndGlyphs">3</text></g>
<g class="rl"><text x="1670.58" y="848.8" font-size="15.4" textLength="8.56" lengthAdjust="spacingAndGlyphs">0</text></g>
<text transform="translate(1268.1 849.9) rotate(-90)" x="-0.65" y="0" font-size="21.2" textLength="305.24" lengthAdjust="spacingAndGlyphs">% of the MG form and free BUP</text>
<text transform="translate(1741.8 576.2) rotate(90)" x="-1.72" y="0" font-size="21" textLength="251.87" lengthAdjust="spacingAndGlyphs">Peak area of the acid form</text>
<circle cx="1415.2" cy="586.4" r="5.1" fill="#1414c8" stroke="#020240" stroke-width="1.1"/>
<path d="M1408.8 609.98L1421.6 609.98L1415.2 622.78Z" fill="#e40000" stroke="#580000" stroke-width="0.8" stroke-linejoin="round"/>
<rect x="1410" y="639.3" width="10.4" height="10.4" fill="#000"/>
<text x="1440.22" y="591.4" font-size="17.5" textLength="140.2" lengthAdjust="spacingAndGlyphs">BUP-C5bMe-MG</text>
<text x="1440.22" y="621.4" font-size="17.5" textLength="143.98" lengthAdjust="spacingAndGlyphs">BUP-C5bMe-acid</text>
<text x="1440.22" y="650.7" font-size="17.5" textLength="38.04" lengthAdjust="spacingAndGlyphs">BUP</text>
<path d="M1359.1 844.8H1659" stroke="#e03a36" stroke-width="2.9" fill="none"/>
<path d="M1352.7 838.18L1365.5 838.18L1359.1 850.98Z" fill="#e40000" stroke="#580000" stroke-width="0.8" stroke-linejoin="round"/>
<path d="M1361.03 838.18L1373.83 838.18L1367.43 850.98Z" fill="#e40000" stroke="#580000" stroke-width="0.8" stroke-linejoin="round"/>
<path d="M1377.69 838.18L1390.49 838.18L1384.09 850.98Z" fill="#e40000" stroke="#580000" stroke-width="0.8" stroke-linejoin="round"/>
<path d="M1402.68 838.18L1415.48 838.18L1409.08 850.98Z" fill="#e40000" stroke="#580000" stroke-width="0.8" stroke-linejoin="round"/>
<path d="M1452.67 838.18L1465.47 838.18L1459.07 850.98Z" fill="#e40000" stroke="#580000" stroke-width="0.8" stroke-linejoin="round"/>
<path d="M1502.65 838.18L1515.45 838.18L1509.05 850.98Z" fill="#e40000" stroke="#580000" stroke-width="0.8" stroke-linejoin="round"/>
<path d="M1552.63 838.18L1565.43 838.18L1559.03 850.98Z" fill="#e40000" stroke="#580000" stroke-width="0.8" stroke-linejoin="round"/>
<path d="M1652.6 838.18L1665.4 838.18L1659 850.98Z" fill="#e40000" stroke="#580000" stroke-width="0.8" stroke-linejoin="round"/>
<path d="M1409.08 741.4V732.9M1404.33 732.9H1413.83" stroke="#000" stroke-width="2.4" fill="none"/>
<polyline points="1359.1,841.3 1367.43,805.7 1384.09,764.4 1409.08,741.4 1459.07,714 1509.05,702.6 1559.03,696.3 1659,682.4" stroke="#000" stroke-width="2.4" fill="none" stroke-linejoin="round"/>
<rect x="1353.9" y="836.1" width="10.4" height="10.4" fill="#000"/>
<rect x="1362.23" y="800.5" width="10.4" height="10.4" fill="#000"/>
<rect x="1378.89" y="759.2" width="10.4" height="10.4" fill="#000"/>
<rect x="1403.88" y="736.2" width="10.4" height="10.4" fill="#000"/>
<rect x="1453.87" y="708.8" width="10.4" height="10.4" fill="#000"/>
<rect x="1503.85" y="697.4" width="10.4" height="10.4" fill="#000"/>
<rect x="1553.83" y="691.1" width="10.4" height="10.4" fill="#000"/>
<rect x="1653.8" y="677.2" width="10.4" height="10.4" fill="#000"/>
<path d="M1384.09 688V671.5M1379.34 671.5H1388.84" stroke="#0a0a78" stroke-width="2.4" fill="none"/>
<polyline points="1359.1,841.3 1367.43,546 1384.09,688 1409.08,760 1459.07,809.8 1509.05,841.3 1559.03,841.3 1659,841.3" stroke="#0a0a78" stroke-width="2.4" fill="none" stroke-linejoin="round"/>
<circle cx="1359.1" cy="841.3" r="5.1" fill="#1414c8" stroke="#020240" stroke-width="1.1"/>
<circle cx="1367.43" cy="546" r="5.1" fill="#1414c8" stroke="#020240" stroke-width="1.1"/>
<circle cx="1384.09" cy="688" r="5.1" fill="#1414c8" stroke="#020240" stroke-width="1.1"/>
<circle cx="1409.08" cy="760" r="5.1" fill="#1414c8" stroke="#020240" stroke-width="1.1"/>
<circle cx="1459.07" cy="809.8" r="5.1" fill="#1414c8" stroke="#020240" stroke-width="1.1"/>
<circle cx="1509.05" cy="841.3" r="5.1" fill="#1414c8" stroke="#020240" stroke-width="1.1"/>
<circle cx="1559.03" cy="841.3" r="5.1" fill="#1414c8" stroke="#020240" stroke-width="1.1"/>
<circle cx="1659" cy="841.3" r="5.1" fill="#1414c8" stroke="#020240" stroke-width="1.1"/>
</g>
</svg>
</body></html>
